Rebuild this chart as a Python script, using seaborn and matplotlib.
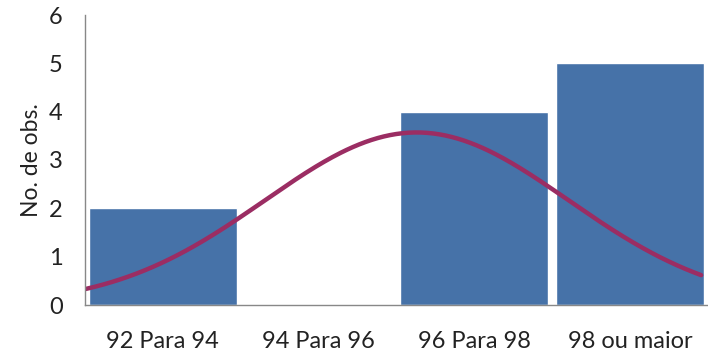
import numpy as np
import pandas as pd
import matplotlib
matplotlib.use("Agg")
import matplotlib.pyplot as plt
import seaborn as sns

# Frequency table
categories = ["92 Para 94", "94 Para 96", "96 Para 98", "98 ou maior"]
counts = [2, 0, 4, 5]
bin_starts = [92, 94, 96, 98]
bin_width = 2

# Fitted normal curve parameters
curve_mean = 96.26
curve_sd = 1.95
curve_peak = 3.57

sns.set_theme(style="white")
plt.rcParams["font.family"] = ["Lato", "DejaVu Sans"]

fig = plt.figure(figsize=(7.08, 3.62), dpi=100)
ax = fig.add_axes([85 / 708, 57 / 362, 623 / 708, 290 / 362])

df = pd.DataFrame({"Classe": categories, "Obs": counts})
sns.barplot(data=df, x="Classe", y="Obs", color="#4672A8", saturation=1,
            width=0.95, ax=ax)

# Normal curve, drawn in category-position units
x_right = 3.456
x_vals = np.linspace(bin_starts[0], bin_starts[0] + bin_width * (x_right + 0.5), 300)
y_vals = curve_peak * np.exp(-0.5 * ((x_vals - curve_mean) / curve_sd) ** 2)
x_pos = (x_vals - (bin_starts[0] + bin_width / 2)) / bin_width
sns.lineplot(x=x_pos, y=y_vals, color="#9B2D63", linewidth=3.2, ax=ax)

ax.set_xlim(-0.5, x_right)
ax.set_ylim(0, 6)
ax.set_yticks(range(0, 7))
ax.set_xticks(np.arange(4))
ax.set_xticklabels(categories)
ax.set_xticks(np.arange(-0.5, 4, 1), minor=True)
ax.tick_params(axis="x", which="major", length=0, pad=19, labelsize=17,
               colors="#222222")
ax.tick_params(axis="x", which="minor", length=6, width=1, color="#888888",
               direction="out")
ax.tick_params(axis="y", length=6, width=1, color="#888888", direction="out",
               labelsize=17, colors="#222222", pad=10)
ax.set_xlabel("")
ax.set_ylabel("No. de obs.", fontsize=16.5, color="#222222", labelpad=5)

for side in ["top", "right"]:
    ax.spines[side].set_visible(False)
for side in ["left", "bottom"]:
    ax.spines[side].set_color("#888888")
    ax.spines[side].set_linewidth(1)

fig.savefig("out.png", dpi=100)
